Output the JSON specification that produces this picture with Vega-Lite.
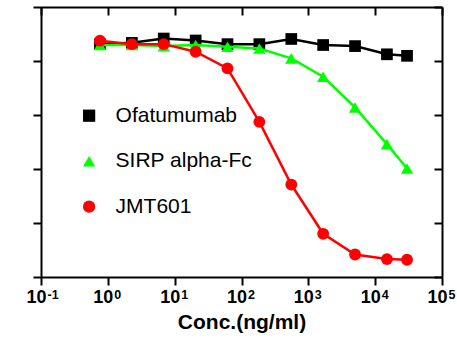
{
  "$schema": "https://vega.github.io/schema/vega-lite/v6.json",
  "width": 401,
  "height": 270,
  "autosize": "none",
  "padding": {"left": 41, "top": 7, "right": 15, "bottom": 62},
  "config": {
    "view": {"stroke": null},
    "font": "Liberation Sans",
    "axis": {"domainColor": "black", "domainWidth": 2, "tickColor": "black", "tickWidth": 2, "grid": false, "labelColor": "black", "titleColor": "black"}
  },
  "data": {
    "values": [
      {"series": "Ofatumumab", "conc": 0.762, "value": 107.8},
      {"series": "Ofatumumab", "conc": 2.29, "value": 108.4},
      {"series": "Ofatumumab", "conc": 6.86, "value": 110.4},
      {"series": "Ofatumumab", "conc": 20.6, "value": 109.5},
      {"series": "Ofatumumab", "conc": 61.7, "value": 107.8},
      {"series": "Ofatumumab", "conc": 185, "value": 107.8},
      {"series": "Ofatumumab", "conc": 556, "value": 110.2},
      {"series": "Ofatumumab", "conc": 1667, "value": 107.4},
      {"series": "Ofatumumab", "conc": 5000, "value": 106.9},
      {"series": "Ofatumumab", "conc": 15000, "value": 103.1},
      {"series": "Ofatumumab", "conc": 30000, "value": 102.4},
      {"series": "SIRP alpha-Fc", "conc": 0.762, "value": 107.4},
      {"series": "SIRP alpha-Fc", "conc": 2.29, "value": 107.4},
      {"series": "SIRP alpha-Fc", "conc": 6.86, "value": 106.9},
      {"series": "SIRP alpha-Fc", "conc": 20.6, "value": 107.4},
      {"series": "SIRP alpha-Fc", "conc": 61.7, "value": 106.6},
      {"series": "SIRP alpha-Fc", "conc": 185, "value": 105.8},
      {"series": "SIRP alpha-Fc", "conc": 556, "value": 101.2},
      {"series": "SIRP alpha-Fc", "conc": 1667, "value": 92.7},
      {"series": "SIRP alpha-Fc", "conc": 5000, "value": 78.5},
      {"series": "SIRP alpha-Fc", "conc": 15000, "value": 61.5},
      {"series": "SIRP alpha-Fc", "conc": 30000, "value": 50.2},
      {"series": "JMT601", "conc": 0.762, "value": 109.4},
      {"series": "JMT601", "conc": 2.29, "value": 107.8},
      {"series": "JMT601", "conc": 6.86, "value": 107.8},
      {"series": "JMT601", "conc": 20.6, "value": 104.3},
      {"series": "JMT601", "conc": 61.7, "value": 96.6},
      {"series": "JMT601", "conc": 185, "value": 71.8},
      {"series": "JMT601", "conc": 556, "value": 42.8},
      {"series": "JMT601", "conc": 1667, "value": 20.0},
      {"series": "JMT601", "conc": 5000, "value": 10.4},
      {"series": "JMT601", "conc": 15000, "value": 8.3},
      {"series": "JMT601", "conc": 30000, "value": 8.0}
    ]
  },
  "resolve": {"axis": {"x": "independent", "y": "independent"}},
  "layer": [
    {
      "transform": [{"filter": "datum.series === 'Ofatumumab'"}],
      "mark": {"type": "line", "color": "black", "strokeWidth": 2.5},
      "encoding": {
        "x": {"field": "conc", "type": "quantitative",
          "scale": {"type": "log", "domain": [0.1, 100000]},
          "axis": {"orient": "bottom", "values": [0.1, 1, 10, 100, 1000, 10000, 100000], "tickSize": 8,
            "labelExpr": "'10'", "labelOffset": -5, "labelAlign": "center",
            "labelFontSize": 18, "labelFontWeight": "bold", "labelPadding": 3, "labelFlush": false, "labelOverlap": false,
            "title": "Conc.(ng/ml)", "titleFontSize": 21, "titleFontWeight": "bold", "titlePadding": 5}},
        "y": {"field": "value", "type": "quantitative",
          "scale": {"domain": [0, 125], "nice": false},
          "axis": {"orient": "left", "values": [0, 25, 50, 75, 100, 125], "tickSize": 8, "labels": false, "title": null}}
      }
    },
    {
      "transform": [{"filter": "datum.series === 'Ofatumumab'"}],
      "mark": {"type": "point", "filled": true, "opacity": 1, "size": 137},
      "encoding": {
        "x": {"field": "conc", "type": "quantitative",
          "axis": {"orient": "top", "values": [0.1, 1, 10, 100, 1000, 10000, 100000], "tickSize": -8,
            "labelExpr": "['-1','0','1','2','3','4','5'][round(log(datum.value)/LN10)+1]",
            "labelAlign": "left", "labelBaseline": "alphabetic", "labelOffset": 6, "labelPadding": -283,
            "labelFontSize": 12.5, "labelFontWeight": "bold", "labelFlush": false, "labelOverlap": false, "title": null}},
        "y": {"field": "value", "type": "quantitative",
          "axis": {"orient": "right", "values": [0, 25, 50, 75, 100, 125], "tickSize": -8, "labels": false, "title": null}},
        "color": {"field": "series", "type": "nominal",
          "scale": {"domain": ["Ofatumumab", "SIRP alpha-Fc", "JMT601"], "range": ["#000000", "#00ff00", "#ff0000"]},
          "legend": {"orient": "none", "legendX": 37.6, "legendY": 98.2, "title": null, "labelFontSize": 21, "symbolSize": 150, "rowPadding": 23.5, "labelOffset": 16, "symbolStrokeWidth": 0, "padding": 0, "labelColor": "black"}},
        "shape": {"field": "series", "type": "nominal",
          "scale": {"domain": ["Ofatumumab", "SIRP alpha-Fc", "JMT601"], "range": ["square", "triangle-up", "circle"]},
          "legend": {"orient": "none", "legendX": 37.6, "legendY": 98.2, "title": null, "labelFontSize": 21, "symbolSize": 150, "rowPadding": 23.5, "labelOffset": 16, "symbolStrokeWidth": 0, "padding": 0, "labelColor": "black"}}
      }
    },
    {
      "transform": [{"filter": "datum.series === 'SIRP alpha-Fc'"}],
      "mark": {"type": "line", "color": "#00ff00", "strokeWidth": 2.5},
      "encoding": {
        "x": {"field": "conc", "type": "quantitative", "axis": null},
        "y": {"field": "value", "type": "quantitative", "axis": null}
      }
    },
    {
      "transform": [{"filter": "datum.series === 'SIRP alpha-Fc'"}],
      "mark": {"type": "point", "filled": true, "opacity": 1, "size": 150},
      "encoding": {
        "x": {"field": "conc", "type": "quantitative", "axis": null},
        "y": {"field": "value", "type": "quantitative", "axis": null},
        "color": {"field": "series", "type": "nominal"},
        "shape": {"field": "series", "type": "nominal"}
      }
    },
    {
      "transform": [{"filter": "datum.series === 'JMT601'"}],
      "mark": {"type": "line", "color": "#ff0000", "strokeWidth": 2.5},
      "encoding": {
        "x": {"field": "conc", "type": "quantitative", "axis": null},
        "y": {"field": "value", "type": "quantitative", "axis": null}
      }
    },
    {
      "transform": [{"filter": "datum.series === 'JMT601'"}],
      "mark": {"type": "point", "filled": true, "opacity": 1, "size": 140},
      "encoding": {
        "x": {"field": "conc", "type": "quantitative", "axis": null},
        "y": {"field": "value", "type": "quantitative", "axis": null},
        "color": {"field": "series", "type": "nominal"},
        "shape": {"field": "series", "type": "nominal"}
      }
    }
  ]
}
